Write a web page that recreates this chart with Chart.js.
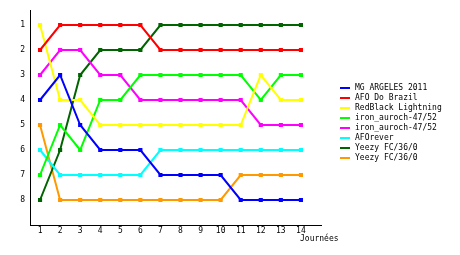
<!DOCTYPE html>
<html>
<head>
<meta charset="utf-8">
<script src="https://cdn.jsdelivr.net/npm/chart.js@4"></script>
<style>
  body { margin: 0; background: #fff; }
  #wrap { position: relative; width: 460px; height: 255px; }
  #legend { position: absolute; left: 340px; top: 83px; font: 8px "DejaVu Sans Mono", monospace; color: #000; }
  #legend div { height: 10px; line-height: 10px; white-space: nowrap; }
  #legend span { display: inline-block; width: 10px; height: 2px; vertical-align: middle; margin-right: 5px; }
  #xtitle { position: absolute; left: 300px; top: 234px; font: 8px "DejaVu Sans Mono", monospace; }
</style>
</head>
<body>
<div id="wrap">
  <canvas id="chart" width="460" height="255"></canvas>
  <div id="legend"></div>
  <div id="xtitle">Journées</div>
</div>
<script>
// Classement par journée
const journees = [1, 2, 3, 4, 5, 6, 7, 8, 9, 10, 11, 12, 13, 14];
const rangs = [1, 2, 3, 4, 5, 6, 7, 8];

const teamNames = ['MG ARGELES 2011', 'AFO Do Brazil', 'RedBlack Lightning', 'iron_auroch-47/52',
  'iron_auroch-47/52', 'AFOrever', 'Yeezy FC/36/0', 'Yeezy FC/36/0'];
const teamColors = ['#0000ff', '#ff0000', '#ffff00', '#00ff00', '#ff00ff', '#00ffff', '#006400', '#ff9900'];

const mgArgeles = [4, 3, 5, 6, 6, 6, 7, 7, 7, 7, 8, 8, 8, 8];
const afoBrazil = [2, 1, 1, 1, 1, 1, 2, 2, 2, 2, 2, 2, 2, 2];
const redBlack = [1, 4, 4, 5, 5, 5, 5, 5, 5, 5, 5, 3, 4, 4];
const ironGreen = [7, 5, 6, 4, 4, 3, 3, 3, 3, 3, 3, 4, 3, 3];
const ironMagenta = [3, 2, 2, 3, 3, 4, 4, 4, 4, 4, 4, 5, 5, 5];
const afoRever = [6, 7, 7, 7, 7, 7, 6, 6, 6, 6, 6, 6, 6, 6];
const yeezyDark = [8, 6, 3, 2, 2, 2, 1, 1, 1, 1, 1, 1, 1, 1];
const yeezyOrange = [5, 8, 8, 8, 8, 8, 8, 8, 8, 8, 7, 7, 7, 7];

const allSeries = [mgArgeles, afoBrazil, redBlack, ironGreen, ironMagenta, afoRever, yeezyDark, yeezyOrange];

const font = { family: 'DejaVu Sans Mono', size: 8 };

const ctx = document.getElementById('chart').getContext('2d');
const chart = new Chart(ctx, {
    type: 'line',
    data: {
        datasets: allSeries.map((vals, i) => ({
            label: teamNames[i],
            data: vals.map((v, j) => ({ x: journees[j], y: v })),
            borderColor: teamColors[i],
            backgroundColor: teamColors[i],
            borderWidth: 2,
            pointStyle: 'rect',
            pointRadius: 1.5,
            tension: 0
        }))
    },
    options: {
        responsive: false,
        animation: false,
        layout: { padding: { top: 10, right: 139, left: 0, bottom: 0 } },
        plugins: { legend: { display: false }, tooltip: { enabled: false } },
        scales: {
            x: {
                type: 'linear', min: 0.5, max: 15,
                afterBuildTicks: s => { s.ticks = journees.map(v => ({ value: v })); },
                afterFit: s => { s.height = 30; },
                grid: { display: false, drawTicks: false },
                border: { display: true, color: '#000', width: 1 },
                ticks: { color: '#000', font: font, padding: 1, maxRotation: 0 }
            },
            y: {
                type: 'linear', reverse: true, min: 0.4, max: 9,
                afterBuildTicks: s => { s.ticks = rangs.map(v => ({ value: v })); },
                afterFit: s => { s.width = 30; },
                grid: { display: false, drawTicks: false },
                border: { display: true, color: '#000', width: 1 },
                ticks: { color: '#000', font: font, padding: 5 }
            }
        }
    }
});

// legend
const legend = document.getElementById('legend');
teamNames.forEach((name, i) => {
    const row = document.createElement('div');
    row.innerHTML = '<span style="background:' + teamColors[i] + '"></span>' + name;
    legend.appendChild(row);
});
</script>
</body>
</html>
